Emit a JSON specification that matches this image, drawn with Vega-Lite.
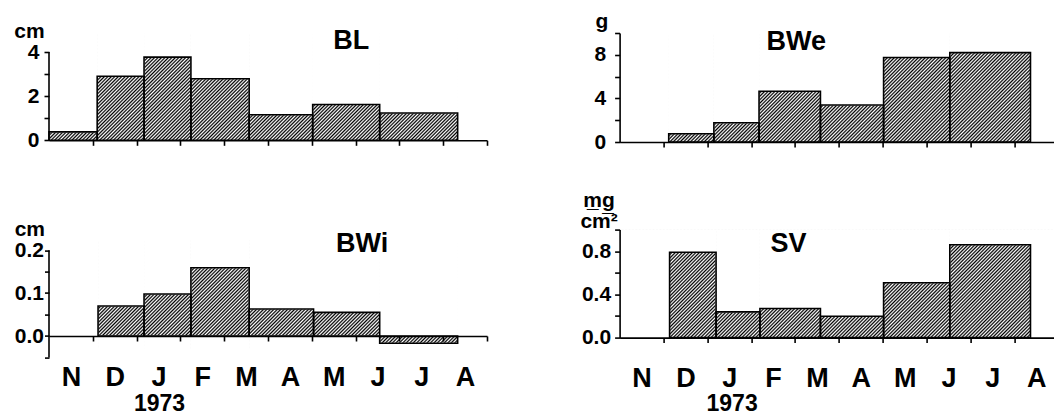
{
"$schema": "https://vega.github.io/schema/vega-lite/v6.json",
"background": "white",
"padding": {"left": 13, "top": 10, "right": 0, "bottom": 0},
"bounds": "flush",
"spacing": 196.6,
"params": [{"name": "hatch", "value": {"gradient":"linear","x1":0,"y1":0,"x2":1.19,"y2":0.295,"stops":[
{"offset":0,"color":"#000"},{"offset":0.0031,"color":"#fff"},{"offset":0.0063,"color":"#000"},{"offset":0.0094,"color":"#fff"},{"offset":0.0125,"color":"#000"},{"offset":0.0156,"color":"#fff"},{"offset":0.0188,"color":"#000"},{"offset":0.0219,"color":"#fff"},
{"offset":0.025,"color":"#000"},{"offset":0.0281,"color":"#fff"},{"offset":0.0313,"color":"#000"},{"offset":0.0344,"color":"#fff"},{"offset":0.0375,"color":"#000"},{"offset":0.0406,"color":"#fff"},{"offset":0.0438,"color":"#000"},{"offset":0.0469,"color":"#fff"},
{"offset":0.05,"color":"#000"},{"offset":0.0531,"color":"#fff"},{"offset":0.0563,"color":"#000"},{"offset":0.0594,"color":"#fff"},{"offset":0.0625,"color":"#000"},{"offset":0.0656,"color":"#fff"},{"offset":0.0688,"color":"#000"},{"offset":0.0719,"color":"#fff"},
{"offset":0.075,"color":"#000"},{"offset":0.0781,"color":"#fff"},{"offset":0.0813,"color":"#000"},{"offset":0.0844,"color":"#fff"},{"offset":0.0875,"color":"#000"},{"offset":0.0906,"color":"#fff"},{"offset":0.0938,"color":"#000"},{"offset":0.0969,"color":"#fff"},
{"offset":0.1,"color":"#000"},{"offset":0.1031,"color":"#fff"},{"offset":0.1063,"color":"#000"},{"offset":0.1094,"color":"#fff"},{"offset":0.1125,"color":"#000"},{"offset":0.1156,"color":"#fff"},{"offset":0.1188,"color":"#000"},{"offset":0.1219,"color":"#fff"},
{"offset":0.125,"color":"#000"},{"offset":0.1281,"color":"#fff"},{"offset":0.1313,"color":"#000"},{"offset":0.1344,"color":"#fff"},{"offset":0.1375,"color":"#000"},{"offset":0.1406,"color":"#fff"},{"offset":0.1438,"color":"#000"},{"offset":0.1469,"color":"#fff"},
{"offset":0.15,"color":"#000"},{"offset":0.1531,"color":"#fff"},{"offset":0.1563,"color":"#000"},{"offset":0.1594,"color":"#fff"},{"offset":0.1625,"color":"#000"},{"offset":0.1656,"color":"#fff"},{"offset":0.1688,"color":"#000"},{"offset":0.1719,"color":"#fff"},
{"offset":0.175,"color":"#000"},{"offset":0.1781,"color":"#fff"},{"offset":0.1813,"color":"#000"},{"offset":0.1844,"color":"#fff"},{"offset":0.1875,"color":"#000"},{"offset":0.1906,"color":"#fff"},{"offset":0.1938,"color":"#000"},{"offset":0.1969,"color":"#fff"},
{"offset":0.2,"color":"#000"},{"offset":0.2031,"color":"#fff"},{"offset":0.2063,"color":"#000"},{"offset":0.2094,"color":"#fff"},{"offset":0.2125,"color":"#000"},{"offset":0.2156,"color":"#fff"},{"offset":0.2188,"color":"#000"},{"offset":0.2219,"color":"#fff"},
{"offset":0.225,"color":"#000"},{"offset":0.2281,"color":"#fff"},{"offset":0.2313,"color":"#000"},{"offset":0.2344,"color":"#fff"},{"offset":0.2375,"color":"#000"},{"offset":0.2406,"color":"#fff"},{"offset":0.2438,"color":"#000"},{"offset":0.2469,"color":"#fff"},
{"offset":0.25,"color":"#000"},{"offset":0.2531,"color":"#fff"},{"offset":0.2563,"color":"#000"},{"offset":0.2594,"color":"#fff"},{"offset":0.2625,"color":"#000"},{"offset":0.2656,"color":"#fff"},{"offset":0.2688,"color":"#000"},{"offset":0.2719,"color":"#fff"},
{"offset":0.275,"color":"#000"},{"offset":0.2781,"color":"#fff"},{"offset":0.2813,"color":"#000"},{"offset":0.2844,"color":"#fff"},{"offset":0.2875,"color":"#000"},{"offset":0.2906,"color":"#fff"},{"offset":0.2938,"color":"#000"},{"offset":0.2969,"color":"#fff"},
{"offset":0.3,"color":"#000"},{"offset":0.3031,"color":"#fff"},{"offset":0.3063,"color":"#000"},{"offset":0.3094,"color":"#fff"},{"offset":0.3125,"color":"#000"},{"offset":0.3156,"color":"#fff"},{"offset":0.3188,"color":"#000"},{"offset":0.3219,"color":"#fff"},
{"offset":0.325,"color":"#000"},{"offset":0.3281,"color":"#fff"},{"offset":0.3313,"color":"#000"},{"offset":0.3344,"color":"#fff"},{"offset":0.3375,"color":"#000"},{"offset":0.3406,"color":"#fff"},{"offset":0.3438,"color":"#000"},{"offset":0.3469,"color":"#fff"},
{"offset":0.35,"color":"#000"},{"offset":0.3531,"color":"#fff"},{"offset":0.3563,"color":"#000"},{"offset":0.3594,"color":"#fff"},{"offset":0.3625,"color":"#000"},{"offset":0.3656,"color":"#fff"},{"offset":0.3688,"color":"#000"},{"offset":0.3719,"color":"#fff"},
{"offset":0.375,"color":"#000"},{"offset":0.3781,"color":"#fff"},{"offset":0.3813,"color":"#000"},{"offset":0.3844,"color":"#fff"},{"offset":0.3875,"color":"#000"},{"offset":0.3906,"color":"#fff"},{"offset":0.3938,"color":"#000"},{"offset":0.3969,"color":"#fff"},
{"offset":0.4,"color":"#000"},{"offset":0.4031,"color":"#fff"},{"offset":0.4063,"color":"#000"},{"offset":0.4094,"color":"#fff"},{"offset":0.4125,"color":"#000"},{"offset":0.4156,"color":"#fff"},{"offset":0.4188,"color":"#000"},{"offset":0.4219,"color":"#fff"},
{"offset":0.425,"color":"#000"},{"offset":0.4281,"color":"#fff"},{"offset":0.4313,"color":"#000"},{"offset":0.4344,"color":"#fff"},{"offset":0.4375,"color":"#000"},{"offset":0.4406,"color":"#fff"},{"offset":0.4438,"color":"#000"},{"offset":0.4469,"color":"#fff"},
{"offset":0.45,"color":"#000"},{"offset":0.4531,"color":"#fff"},{"offset":0.4563,"color":"#000"},{"offset":0.4594,"color":"#fff"},{"offset":0.4625,"color":"#000"},{"offset":0.4656,"color":"#fff"},{"offset":0.4688,"color":"#000"},{"offset":0.4719,"color":"#fff"},
{"offset":0.475,"color":"#000"},{"offset":0.4781,"color":"#fff"},{"offset":0.4813,"color":"#000"},{"offset":0.4844,"color":"#fff"},{"offset":0.4875,"color":"#000"},{"offset":0.4906,"color":"#fff"},{"offset":0.4938,"color":"#000"},{"offset":0.4969,"color":"#fff"},
{"offset":0.5,"color":"#000"},{"offset":0.5031,"color":"#fff"},{"offset":0.5063,"color":"#000"},{"offset":0.5094,"color":"#fff"},{"offset":0.5125,"color":"#000"},{"offset":0.5156,"color":"#fff"},{"offset":0.5188,"color":"#000"},{"offset":0.5219,"color":"#fff"},
{"offset":0.525,"color":"#000"},{"offset":0.5281,"color":"#fff"},{"offset":0.5313,"color":"#000"},{"offset":0.5344,"color":"#fff"},{"offset":0.5375,"color":"#000"},{"offset":0.5406,"color":"#fff"},{"offset":0.5438,"color":"#000"},{"offset":0.5469,"color":"#fff"},
{"offset":0.55,"color":"#000"},{"offset":0.5531,"color":"#fff"},{"offset":0.5563,"color":"#000"},{"offset":0.5594,"color":"#fff"},{"offset":0.5625,"color":"#000"},{"offset":0.5656,"color":"#fff"},{"offset":0.5688,"color":"#000"},{"offset":0.5719,"color":"#fff"},
{"offset":0.575,"color":"#000"},{"offset":0.5781,"color":"#fff"},{"offset":0.5813,"color":"#000"},{"offset":0.5844,"color":"#fff"},{"offset":0.5875,"color":"#000"},{"offset":0.5906,"color":"#fff"},{"offset":0.5938,"color":"#000"},{"offset":0.5969,"color":"#fff"},
{"offset":0.6,"color":"#000"},{"offset":0.6031,"color":"#fff"},{"offset":0.6063,"color":"#000"},{"offset":0.6094,"color":"#fff"},{"offset":0.6125,"color":"#000"},{"offset":0.6156,"color":"#fff"},{"offset":0.6188,"color":"#000"},{"offset":0.6219,"color":"#fff"},
{"offset":0.625,"color":"#000"},{"offset":0.6281,"color":"#fff"},{"offset":0.6313,"color":"#000"},{"offset":0.6344,"color":"#fff"},{"offset":0.6375,"color":"#000"},{"offset":0.6406,"color":"#fff"},{"offset":0.6438,"color":"#000"},{"offset":0.6469,"color":"#fff"},
{"offset":0.65,"color":"#000"},{"offset":0.6531,"color":"#fff"},{"offset":0.6563,"color":"#000"},{"offset":0.6594,"color":"#fff"},{"offset":0.6625,"color":"#000"},{"offset":0.6656,"color":"#fff"},{"offset":0.6688,"color":"#000"},{"offset":0.6719,"color":"#fff"},
{"offset":0.675,"color":"#000"},{"offset":0.6781,"color":"#fff"},{"offset":0.6813,"color":"#000"},{"offset":0.6844,"color":"#fff"},{"offset":0.6875,"color":"#000"},{"offset":0.6906,"color":"#fff"},{"offset":0.6938,"color":"#000"},{"offset":0.6969,"color":"#fff"},
{"offset":0.7,"color":"#000"},{"offset":0.7031,"color":"#fff"},{"offset":0.7063,"color":"#000"},{"offset":0.7094,"color":"#fff"},{"offset":0.7125,"color":"#000"},{"offset":0.7156,"color":"#fff"},{"offset":0.7188,"color":"#000"},{"offset":0.7219,"color":"#fff"},
{"offset":0.725,"color":"#000"},{"offset":0.7281,"color":"#fff"},{"offset":0.7313,"color":"#000"},{"offset":0.7344,"color":"#fff"},{"offset":0.7375,"color":"#000"},{"offset":0.7406,"color":"#fff"},{"offset":0.7438,"color":"#000"},{"offset":0.7469,"color":"#fff"},
{"offset":0.75,"color":"#000"},{"offset":0.7531,"color":"#fff"},{"offset":0.7563,"color":"#000"},{"offset":0.7594,"color":"#fff"},{"offset":0.7625,"color":"#000"},{"offset":0.7656,"color":"#fff"},{"offset":0.7688,"color":"#000"},{"offset":0.7719,"color":"#fff"},
{"offset":0.775,"color":"#000"},{"offset":0.7781,"color":"#fff"},{"offset":0.7813,"color":"#000"},{"offset":0.7844,"color":"#fff"},{"offset":0.7875,"color":"#000"},{"offset":0.7906,"color":"#fff"},{"offset":0.7938,"color":"#000"},{"offset":0.7969,"color":"#fff"},
{"offset":0.8,"color":"#000"},{"offset":0.8031,"color":"#fff"},{"offset":0.8063,"color":"#000"},{"offset":0.8094,"color":"#fff"},{"offset":0.8125,"color":"#000"},{"offset":0.8156,"color":"#fff"},{"offset":0.8188,"color":"#000"},{"offset":0.8219,"color":"#fff"},
{"offset":0.825,"color":"#000"},{"offset":0.8281,"color":"#fff"},{"offset":0.8313,"color":"#000"},{"offset":0.8344,"color":"#fff"},{"offset":0.8375,"color":"#000"},{"offset":0.8406,"color":"#fff"},{"offset":0.8438,"color":"#000"},{"offset":0.8469,"color":"#fff"},
{"offset":0.85,"color":"#000"},{"offset":0.8531,"color":"#fff"},{"offset":0.8563,"color":"#000"},{"offset":0.8594,"color":"#fff"},{"offset":0.8625,"color":"#000"},{"offset":0.8656,"color":"#fff"},{"offset":0.8688,"color":"#000"},{"offset":0.8719,"color":"#fff"},
{"offset":0.875,"color":"#000"},{"offset":0.8781,"color":"#fff"},{"offset":0.8813,"color":"#000"},{"offset":0.8844,"color":"#fff"},{"offset":0.8875,"color":"#000"},{"offset":0.8906,"color":"#fff"},{"offset":0.8938,"color":"#000"},{"offset":0.8969,"color":"#fff"},
{"offset":0.9,"color":"#000"},{"offset":0.9031,"color":"#fff"},{"offset":0.9063,"color":"#000"},{"offset":0.9094,"color":"#fff"},{"offset":0.9125,"color":"#000"},{"offset":0.9156,"color":"#fff"},{"offset":0.9188,"color":"#000"},{"offset":0.9219,"color":"#fff"},
{"offset":0.925,"color":"#000"},{"offset":0.9281,"color":"#fff"},{"offset":0.9313,"color":"#000"},{"offset":0.9344,"color":"#fff"},{"offset":0.9375,"color":"#000"},{"offset":0.9406,"color":"#fff"},{"offset":0.9438,"color":"#000"},{"offset":0.9469,"color":"#fff"},
{"offset":0.95,"color":"#000"},{"offset":0.9531,"color":"#fff"},{"offset":0.9563,"color":"#000"},{"offset":0.9594,"color":"#fff"},{"offset":0.9625,"color":"#000"},{"offset":0.9656,"color":"#fff"},{"offset":0.9688,"color":"#000"},{"offset":0.9719,"color":"#fff"},
{"offset":0.975,"color":"#000"},{"offset":0.9781,"color":"#fff"},{"offset":0.9813,"color":"#000"},{"offset":0.9844,"color":"#fff"},{"offset":0.9875,"color":"#000"},{"offset":0.9906,"color":"#fff"},{"offset":0.9938,"color":"#000"},{"offset":0.9969,"color":"#fff"},
{"offset":1,"color":"#000"}
]}}],
"datasets": {
 "bl": [{"x0":0,"x1":1.1,"v":0.38},{"x0":1.1,"x1":2.17,"v":2.9},{"x0":2.17,"x1":3.24,"v":3.77},{"x0":3.24,"x1":4.57,"v":2.79},{"x0":4.57,"x1":6.02,"v":1.16},{"x0":6.02,"x1":7.55,"v":1.62},{"x0":7.55,"x1":9.33,"v":1.24}],
 "bwe": [{"x0":1.12,"x1":2.15,"v":0.76},{"x0":2.15,"x1":3.18,"v":1.76},{"x0":3.18,"x1":4.58,"v":4.65},{"x0":4.58,"x1":6.02,"v":3.4},{"x0":6.02,"x1":7.53,"v":7.75},{"x0":7.53,"x1":9.37,"v":8.2}],
 "bwi": [{"x0":1.12,"x1":2.17,"v":0.07},{"x0":2.17,"x1":3.24,"v":0.098},{"x0":3.24,"x1":4.57,"v":0.159},{"x0":4.57,"x1":6.04,"v":0.063},{"x0":6.04,"x1":7.55,"v":0.055},{"x0":7.55,"x1":9.33,"v":-0.017}],
 "sv": [{"x0":1.14,"x1":2.2,"v":0.79},{"x0":2.2,"x1":3.2,"v":0.238},{"x0":3.2,"x1":4.58,"v":0.27},{"x0":4.58,"x1":6.02,"v":0.197},{"x0":6.02,"x1":7.53,"v":0.508},{"x0":7.53,"x1":9.37,"v":0.86}]
},
"vconcat": [
 {"hconcat": [
  {"width":438,"height":107.3,"data":{"name":"bl"},"layer":[
   {"transform":[{"aggregate":[{"op":"count","as":"n"}]}],"mark":{"type":"rect","fill":{"expr":"hatch"},"strokeWidth":0,"clip":true},"encoding":{"x":{"datum":0,"type":"quantitative"},"x2":{"datum":10},"y":{"datum":0,"type":"quantitative"},"y2":{"datum":4.915}}},
   {"mark":{"type":"rect","fill":"white","stroke":"white","strokeWidth":1},"encoding":{"x":{"field":"x0","type":"quantitative"},"x2":{"field":"x1"},"y":{"field":"v","type":"quantitative"},"y2":{"datum":4.861}}},
   {"transform":[{"aggregate":[{"op":"min","field":"x0","as":"lo"},{"op":"max","field":"x1","as":"hi"}]}],"layer":[
     {"mark":{"type":"rect","fill":"white","stroke":"white","strokeWidth":1},"encoding":{"x":{"field":"lo","type":"quantitative"},"x2":{"datum":0},"y":{"datum":0,"type":"quantitative"},"y2":{"datum":4.861}}},
     {"mark":{"type":"rect","fill":"white","stroke":"white","strokeWidth":1},"encoding":{"x":{"field":"hi","type":"quantitative"},"x2":{"datum":10},"y":{"datum":0,"type":"quantitative"},"y2":{"datum":4.861}}}
   ]},
   {"mark":{"type":"rect","fillOpacity":0,"stroke":"black","strokeWidth":1.6},"encoding":{
     "x":{"field":"x0","type":"quantitative","scale":{"domain":[0,10],"nice":false,"zero":false},"axis":{"zindex":1,"tickCount":100,"values":[1,2,3,4,5,6,7,8,9,10],"labels":false,"title":null}},
     "x2":{"field":"x1"},
     "y":{"field":"v","type":"quantitative","scale":{"domain":[0,4.861],"nice":false},"axis":{"zindex":1,"tickCount":100,"values":[0,1,2,3,4],"labelExpr":"datum.value % 2 == 0 ? format(datum.value, 'd') : ''","labelOverlap":false,"domain":false,"labelPadding":5,"title":"cm","titleAngle":0,"titleAlign":"center","titleBaseline":"alphabetic","titleX":-20,"titleY":4.5}},
     "y2":{"datum":0}}},
   {"transform":[{"aggregate":[{"op":"count","as":"n"}]}],"mark":{"type":"rule","color":"black","strokeWidth":1.6},"encoding":{"x":{"datum":0,"type":"quantitative"},"y":{"datum":0,"type":"quantitative"},"y2":{"datum":4}}},
   {"transform":[{"aggregate":[{"op":"count","as":"n"}]}],"mark":{"type":"text","text":"BL","font":"Liberation Sans","fontWeight":"bold","fontSize":27,"align":"center","baseline":"alphabetic","color":"black"},"encoding":{"x":{"datum":6.9,"type":"quantitative"},"y":{"datum":4.122,"type":"quantitative"}}}
  ]},
  {"width":435,"height":109,"data":{"name":"bwe"},"layer":[
   {"transform":[{"aggregate":[{"op":"count","as":"n"}]}],"mark":{"type":"rect","fill":{"expr":"hatch"},"strokeWidth":0,"clip":true},"encoding":{"x":{"datum":0,"type":"quantitative"},"x2":{"datum":9.92},"y":{"datum":0,"type":"quantitative"},"y2":{"datum":9.954}}},
   {"mark":{"type":"rect","fill":"white","stroke":"white","strokeWidth":1},"encoding":{"x":{"field":"x0","type":"quantitative"},"x2":{"field":"x1"},"y":{"field":"v","type":"quantitative"},"y2":{"datum":10}}},
   {"transform":[{"aggregate":[{"op":"min","field":"x0","as":"lo"},{"op":"max","field":"x1","as":"hi"}]}],"layer":[
     {"mark":{"type":"rect","fill":"white","stroke":"white","strokeWidth":1},"encoding":{"x":{"field":"lo","type":"quantitative"},"x2":{"datum":0},"y":{"datum":0,"type":"quantitative"},"y2":{"datum":10}}},
     {"mark":{"type":"rect","fill":"white","stroke":"white","strokeWidth":1},"encoding":{"x":{"field":"hi","type":"quantitative"},"x2":{"datum":9.92},"y":{"datum":0,"type":"quantitative"},"y2":{"datum":10}}}
   ]},
   {"mark":{"type":"rect","fillOpacity":0,"stroke":"black","strokeWidth":1.6},"encoding":{
     "x":{"field":"x0","type":"quantitative","scale":{"domain":[0,9.92],"nice":false,"zero":false},"axis":{"zindex":1,"tickCount":100,"values":[1,2,3,4,5,6,7,8,9],"labels":false,"title":null}},
     "x2":{"field":"x1"},
     "y":{"field":"v","type":"quantitative","scale":{"domain":[0,10],"nice":false},"axis":{"zindex":1,"tickCount":100,"values":[0,2,4,6,8,10],"labelExpr":"datum.value % 4 == 0 ? format(datum.value, 'd') : ''","labelOverlap":false,"labelPadding":9,"title":"g","titleAngle":0,"titleAlign":"center","titleBaseline":"alphabetic","titleX":-18.3,"titleY":-5.7}},
     "y2":{"datum":0}}},
   {"transform":[{"aggregate":[{"op":"count","as":"n"}]}],"mark":{"type":"text","text":"BWe","font":"Liberation Sans","fontWeight":"bold","fontSize":27,"align":"center","baseline":"alphabetic","color":"black"},"encoding":{"x":{"datum":4.03,"type":"quantitative"},"y":{"datum":8.41,"type":"quantitative"}}}
  ]}
 ], "spacing": 132.6, "bounds": "flush"},
 {"hconcat": [
  {"width":438,"height":130,"data":{"name":"bwi"},"layer":[
   {"transform":[{"aggregate":[{"op":"count","as":"n"}]}],"mark":{"type":"rect","fill":{"expr":"hatch"},"strokeWidth":0,"clip":true},"encoding":{"x":{"datum":0,"type":"quantitative"},"x2":{"datum":10},"y":{"datum":-0.03,"type":"quantitative"},"y2":{"datum":0.2229}}},
   {"transform":[{"filter":"datum.v >= 0"}],"layer":[
     {"mark":{"type":"rect","fill":"white","stroke":"white","strokeWidth":1},"encoding":{"x":{"field":"x0","type":"quantitative"},"x2":{"field":"x1"},"y":{"field":"v","type":"quantitative"},"y2":{"datum":0.248}}},
     {"mark":{"type":"rect","fill":"white","stroke":"white","strokeWidth":1},"encoding":{"x":{"field":"x0","type":"quantitative"},"x2":{"field":"x1"},"y":{"datum":0,"type":"quantitative"},"y2":{"datum":-0.055}}}
   ]},
   {"transform":[{"filter":"datum.v < 0"}],"layer":[
     {"mark":{"type":"rect","fill":"white","stroke":"white","strokeWidth":1},"encoding":{"x":{"field":"x0","type":"quantitative"},"x2":{"field":"x1"},"y":{"datum":0,"type":"quantitative"},"y2":{"datum":0.248}}},
     {"mark":{"type":"rect","fill":"white","stroke":"white","strokeWidth":1},"encoding":{"x":{"field":"x0","type":"quantitative"},"x2":{"field":"x1"},"y":{"field":"v","type":"quantitative"},"y2":{"datum":-0.055}}}
   ]},
   {"transform":[{"aggregate":[{"op":"min","field":"x0","as":"lo"},{"op":"max","field":"x1","as":"hi"}]}],"layer":[
     {"mark":{"type":"rect","fill":"white","stroke":"white","strokeWidth":1},"encoding":{"x":{"field":"lo","type":"quantitative"},"x2":{"datum":0},"y":{"datum":-0.055,"type":"quantitative"},"y2":{"datum":0.248}}},
     {"mark":{"type":"rect","fill":"white","stroke":"white","strokeWidth":1},"encoding":{"x":{"field":"hi","type":"quantitative"},"x2":{"datum":10},"y":{"datum":-0.055,"type":"quantitative"},"y2":{"datum":0.248}}}
   ]},
   {"mark":{"type":"rect","fillOpacity":0,"stroke":"black","strokeWidth":1.6},"encoding":{
     "x":{"field":"x0","type":"quantitative","scale":{"domain":[0,10],"nice":false,"zero":false},"axis":{"zindex":1,"tickCount":100,"values":[0.5,1,1.5,2,2.5,3,3.5,4,4.5,5,5.5,6,6.5,7,7.5,8,8.5,9,9.5,10],"labelExpr":"datum.value % 1 ? ['N','D','J','F','M','A','M','J','J','A'][floor(datum.value)] : ''","tickOpacity":{"condition":{"test":"datum.value % 1 != 0","value":0},"value":1},"offset":-23.6,"labelFontSize":27,"labelPadding":23,"labelOverlap":false,"labelFlush":false,"title":"1973","titleFontSize":23,"titleX":110,"titleY":74.3,"titleAlign":"center","titleBaseline":"alphabetic"}},
     "x2":{"field":"x1"},
     "y":{"field":"v","type":"quantitative","scale":{"domain":[-0.055,0.248],"nice":false,"zero":false},"axis":{"zindex":1,"tickCount":100,"values":[-0.05,0,0.05,0.1,0.15,0.2],"labelExpr":"round(datum.value*100) % 10 == 0 ? format(datum.value, '.1f') : ''","labelOverlap":false,"domain":false,"tickSize":4.5,"labelPadding":1,"title":"cm","titleAngle":0,"titleAlign":"center","titleBaseline":"alphabetic","titleX":-19.7,"titleY":5.7}},
     "y2":{"datum":0}}},
   {"transform":[{"aggregate":[{"op":"count","as":"n"}]}],"mark":{"type":"rule","color":"black","strokeWidth":1.6},"encoding":{"x":{"datum":0,"type":"quantitative"},"y":{"datum":-0.05,"type":"quantitative"},"y2":{"datum":0.2}}},
   {"transform":[{"aggregate":[{"op":"count","as":"n"}]}],"mark":{"type":"text","text":"BWi","font":"Liberation Sans","fontWeight":"bold","fontSize":27,"align":"center","baseline":"alphabetic","color":"black"},"encoding":{"x":{"datum":7.15,"type":"quantitative"},"y":{"datum":0.195,"type":"quantitative"}}}
  ]},
  {"width":435,"height":108,"data":{"name":"sv"},"layer":[
   {"transform":[{"aggregate":[{"op":"count","as":"n"}]}],"mark":{"type":"rect","fill":{"expr":"hatch"},"strokeWidth":0,"clip":true},"encoding":{"x":{"datum":0,"type":"quantitative"},"x2":{"datum":9.92},"y":{"datum":0,"type":"quantitative"},"y2":{"datum":1.0046}}},
   {"mark":{"type":"rect","fill":"white","stroke":"white","strokeWidth":1},"encoding":{"x":{"field":"x0","type":"quantitative"},"x2":{"field":"x1"},"y":{"field":"v","type":"quantitative"},"y2":{"datum":1}}},
   {"transform":[{"aggregate":[{"op":"min","field":"x0","as":"lo"},{"op":"max","field":"x1","as":"hi"}]}],"layer":[
     {"mark":{"type":"rect","fill":"white","stroke":"white","strokeWidth":1},"encoding":{"x":{"field":"lo","type":"quantitative"},"x2":{"datum":0},"y":{"datum":0,"type":"quantitative"},"y2":{"datum":1}}},
     {"mark":{"type":"rect","fill":"white","stroke":"white","strokeWidth":1},"encoding":{"x":{"field":"hi","type":"quantitative"},"x2":{"datum":9.92},"y":{"datum":0,"type":"quantitative"},"y2":{"datum":1}}}
   ]},
   {"mark":{"type":"rect","fillOpacity":0,"stroke":"black","strokeWidth":1.6},"encoding":{
     "x":{"field":"x0","type":"quantitative","scale":{"domain":[0,9.92],"nice":false,"zero":false},"axis":{"zindex":1,"tickCount":100,"values":[0.5,1,1.5,2,2.5,3,3.5,4,4.5,5,5.5,6,6.5,7,7.5,8,8.5,9,9.5],"labelExpr":"datum.value % 1 ? ['N','D','J','F','M','A','M','J','J','A'][floor(datum.value)] : ''","tickOpacity":{"condition":{"test":"datum.value % 1 != 0","value":0},"value":1},"labelFontSize":27,"labelPadding":22.5,"labelOverlap":false,"labelFlush":false,"title":"1973","titleFontSize":23,"titleX":112,"titleY":72.7,"titleAlign":"center","titleBaseline":"alphabetic"}},
     "x2":{"field":"x1"},
     "y":{"field":"v","type":"quantitative","scale":{"domain":[0,1],"nice":false},"axis":{"zindex":1,"tickCount":100,"values":[0,0.2,0.4,0.6,0.8,1],"labelExpr":"round(datum.value*10) % 4 == 0 ? format(datum.value, '.1f') : ''","labelOverlap":false,"labelPadding":4,"title":["m\u0332g\u0332","cm²"],"titleLineHeight":21,"titleAngle":0,"titleAlign":"center","titleBaseline":"alphabetic","titleX":-21,"titleY":-23.3}},
     "y2":{"datum":0}}},
   {"transform":[{"aggregate":[{"op":"count","as":"n"}]}],"mark":{"type":"text","text":"SV","font":"Liberation Sans","fontWeight":"bold","fontSize":27,"align":"center","baseline":"alphabetic","color":"black"},"encoding":{"x":{"datum":3.85,"type":"quantitative"},"y":{"datum":0.793,"type":"quantitative"}}}
  ]}
 ], "spacing": 132.6, "bounds": "flush"}
],
"config": {
 "view": {"stroke": null},
 "axis": {"domainColor":"black","tickColor":"black","domainWidth":1.6,"tickWidth":1.6,"tickSize":5,"labelColor":"black","titleColor":"black","labelFont":"Liberation Sans","titleFont":"Liberation Sans","labelFontWeight":"bold","titleFontWeight":"bold","labelFontSize":21,"titleFontSize":21,"grid":false,"titlePadding":0}
}
}
